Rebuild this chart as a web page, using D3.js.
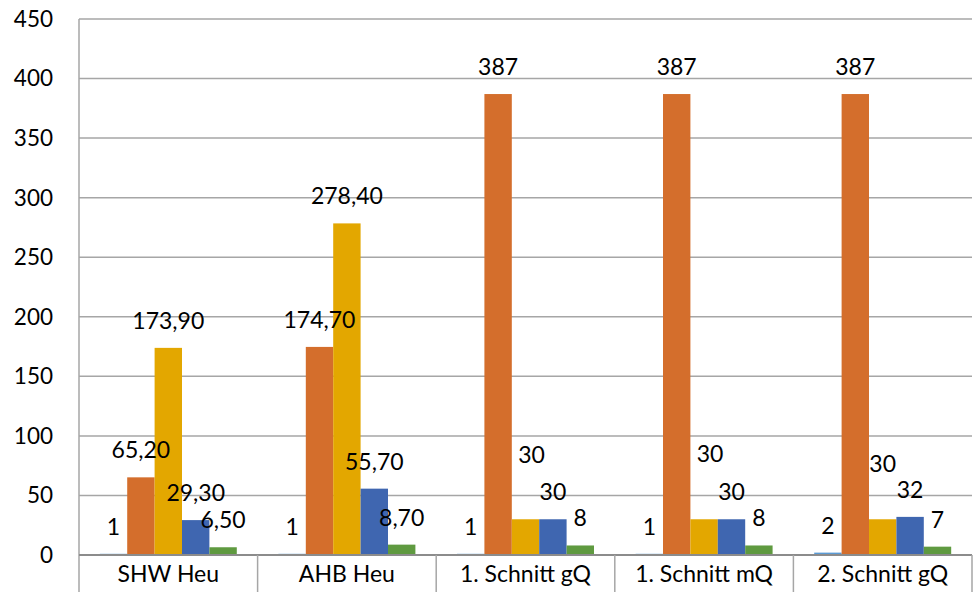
<!DOCTYPE html>
<html>
<head>
<meta charset="utf-8">
<script src="https://cdn.jsdelivr.net/npm/d3@7"></script>
<style>
  html, body { margin: 0; padding: 0; background: #fff; }
  svg { display: block; }
  text { font-family: Lato, "Open Sans", sans-serif; fill: #000; }
</style>
</head>
<body>
<svg id="chart" width="976" height="592"></svg>
<script>
// ---- data ----
const categories = ["SHW Heu", "AHB Heu", "1. Schnitt gQ", "1. Schnitt mQ", "2. Schnitt gQ"];
const seriesA = [1, 1, 1, 1, 2];
const seriesB = [65.2, 174.7, 387, 387, 387];
const seriesC = [173.9, 278.4, 30, 30, 30];
const seriesD = [29.3, 55.7, 30, 30, 32];
const seriesE = [6.5, 8.7, 8, 8, 7];
const labelsA = ["1", "1", "1", "1", "2"];
const labelsB = ["65,20", "174,70", "387", "387", "387"];
const labelsC = ["173,90", "278,40", "30", "30", "30"];
const labelsD = ["29,30", "55,70", "30", "30", "32"];
const labelsE = ["6,50", "8,70", "8", "8", "7"];
const yTicks = [0, 50, 100, 150, 200, 250, 300, 350, 400, 450];

// ---- style / layout ----
const colors = ["#5B9BD5", "#D46E2C", "#E3A700", "#3F66B0", "#5F9A40"];
const seriesVals = [seriesA, seriesB, seriesC, seriesD, seriesE];
const seriesLabels = [labelsA, labelsB, labelsC, labelsD, labelsE];
// manual label displacements (series index, category index) -> [dx, dy]
const labelNudge = { "2-2": [6, -37], "2-3": [6, -38], "2-4": [0, -28] };

const plotL = 79, plotR = 972, plotT = 19, plotB = 555;
const svg = d3.select("#chart");

const y = d3.scaleLinear().domain([0, 450]).range([plotB, plotT]);
const x0 = d3.scaleBand().domain(categories).range([plotL, plotR]).padding(0);
const bw = x0.bandwidth();
const gap = bw * 0.1165;
const x1 = d3.scaleBand().domain(d3.range(seriesVals.length)).range([gap, bw - gap]).padding(0);

// gridlines
svg.append("g").selectAll("line").data(yTicks.filter(t => t > 0)).join("line")
  .attr("x1", plotL).attr("x2", plotR)
  .attr("y1", d => y(d)).attr("y2", d => y(d))
  .attr("stroke", "#A6A6A6").attr("stroke-width", 1.5);

// y tick labels
svg.append("g").selectAll("text").data(yTicks).join("text")
  .attr("x", 53).attr("y", d => y(d)).attr("dy", "0.35em")
  .attr("text-anchor", "end").attr("font-size", 22.5)
  .text(d => d);

// bars
const rows = [];
seriesVals.forEach((arr, s) => arr.forEach((v, c) => rows.push({ s, c, v, label: seriesLabels[s][c] })));

svg.append("g").selectAll("rect").data(rows).join("rect")
  .attr("x", d => x0(categories[d.c]) + x1(d.s))
  .attr("width", x1.bandwidth())
  .attr("y", d => y(d.v))
  .attr("height", d => y(0) - y(d.v))
  .attr("fill", d => colors[d.s]);

// value labels
const nudge = d => labelNudge[d.s + "-" + d.c] || [0, 0];
svg.append("g").selectAll("text").data(rows).join("text")
  .attr("x", d => x0(categories[d.c]) + x1(d.s) + x1.bandwidth() / 2 + nudge(d)[0])
  .attr("y", d => y(d.v) - 19 + nudge(d)[1])
  .attr("text-anchor", "middle").attr("font-size", 23)
  .text(d => d.label);

// axes lines
svg.append("line").attr("x1", plotL).attr("x2", plotL).attr("y1", plotT).attr("y2", 592)
  .attr("stroke", "#A6A6A6").attr("stroke-width", 1.5);
svg.append("line").attr("x1", plotL).attr("x2", plotR).attr("y1", plotB).attr("y2", plotB)
  .attr("stroke", "#8C8C8C").attr("stroke-width", 2);

// category separators
const bounds = categories.map(c => x0(c)).concat([plotR]).slice(1);
svg.append("g").selectAll("line").data(bounds).join("line")
  .attr("x1", d => d).attr("x2", d => d).attr("y1", plotB).attr("y2", 592)
  .attr("stroke", "#A6A6A6").attr("stroke-width", 1.5);

// category labels
svg.append("g").selectAll("text").data(categories).join("text")
  .attr("x", d => x0(d) + bw / 2).attr("y", 582)
  .attr("text-anchor", "middle").attr("font-size", 23)
  .text(d => d);
</script>
</body>
</html>
